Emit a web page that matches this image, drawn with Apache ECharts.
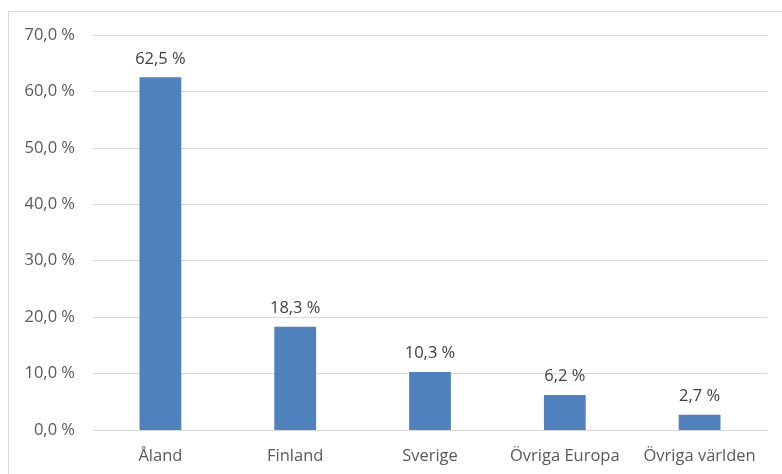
<!DOCTYPE html>
<html><head><meta charset="utf-8">
<script src="https://cdn.jsdelivr.net/npm/echarts@6/dist/echarts.min.js"></script>
<style>html,body{margin:0;padding:0;background:#fff}#c{width:782px;height:474px}</style>
</head><body><div id="c"></div>
<script>
var categories = ["Åland", "Finland", "Sverige", "Övriga Europa", "Övriga världen"];
var values = [62.5, 18.3, 10.3, 6.2, 2.7];
var yTicks = [0, 10, 20, 30, 40, 50, 60, 70];

function fmt(v){ return v.toFixed(1).replace('.', ',') + ' %'; }
var FONT = "'Open Sans', sans-serif";
var chart = echarts.init(document.getElementById('c'), null, {renderer:'canvas'});
chart.setOption({
  animation: false,
  backgroundColor: '#fff',
  graphic: [
    {type:'line', shape:{x1:8.5,y1:11.5,x2:782,y2:11.5}, style:{stroke:'#d9d9d9', lineWidth:1}},
    {type:'line', shape:{x1:8.5,y1:11.5,x2:8.5,y2:474}, style:{stroke:'#d9d9d9', lineWidth:1}}
  ],
  grid: {left: 93, right: 15, top: 35, bottom: 44, containLabel: false},
  xAxis: {
    type: 'category', data: categories,
    axisLine: {lineStyle:{color:'#d9d9d9', width:1}},
    axisTick: {show:false},
    axisLabel: {color:'#595959', fontSize:16.5, fontFamily: FONT, margin: 18, interval: 0, hideOverlap: false}
  },
  yAxis: {
    type: 'value', min: yTicks[0], max: yTicks[yTicks.length-1], interval: 10,
    axisLine: {show:false}, axisTick: {show:false},
    splitLine: {lineStyle:{color:'#d9d9d9', width:1}},
    axisLabel: {color:'#595959', fontSize:16.5, fontFamily: FONT, margin: 18, formatter: fmt}
  },
  series: [{
    type: 'bar', data: values, barWidth: '31%',
    itemStyle: {color:'#4f81bd'},
    label: {show:true, position:'top', distance: 10, color:'#404040', fontSize:16.5, fontFamily: FONT,
      formatter: function(p){ return fmt(p.value); }}
  }]
});
</script></body></html>
